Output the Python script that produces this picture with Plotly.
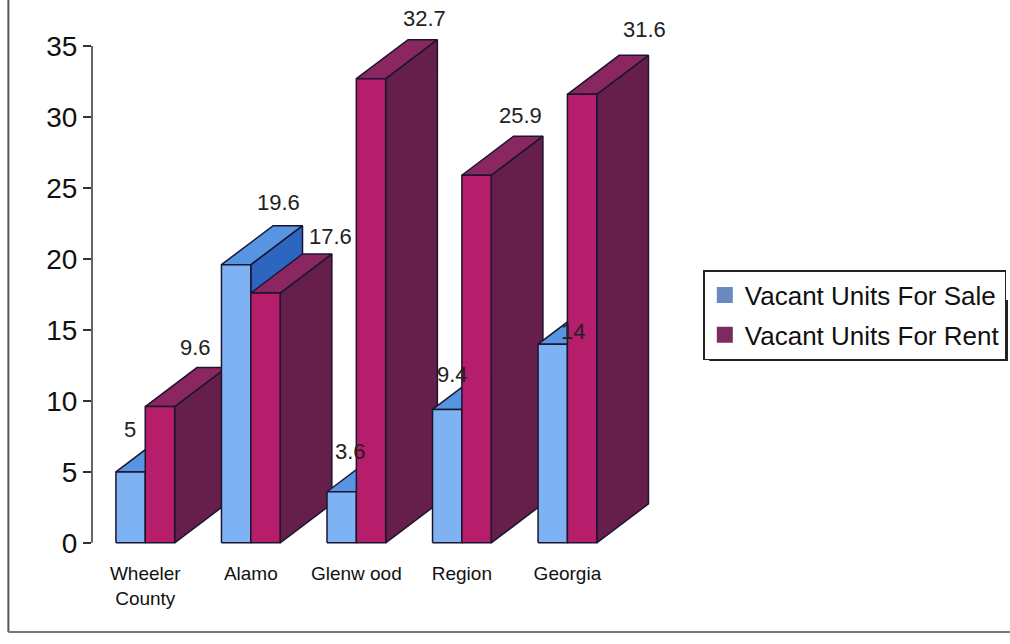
import plotly.graph_objects as go

# ---- data -------------------------------------------------------------
categories = ["Wheeler<br>County", "Alamo", "Glenw ood", "Region", "Georgia"]
for_sale = [5, 19.6, 3.6, 9.4, 14]
for_rent = [9.6, 17.6, 32.7, 25.9, 31.6]
y_ticks = [0, 5, 10, 15, 20, 25, 30, 35]

# value-label offsets in pixels from each bar's top-front-left corner
sale_label_shift = [(14, 42), (57, 62), (23, 40), (20, 35), (35, 13)]
rent_label_shift = [(50, 59), (80, 57), (68, 60), (59, 60), (77, 65)]

# ---- page layout (pixels) ----------------------------------------------
W, H = 1010, 644
M_L, M_R, M_T, M_B = 92, 4, 12, 99
PX_PER_CAT = 106.0          # horizontal distance between categories
X_START = -0.5047           # category units at the value axis


def paper_x(px):
    return (px - M_L) / (W - M_L - M_R)


def paper_y(py):
    return (H - M_B - py) / (H - M_T - M_B)


# ---- 3-D bar geometry (axis units) -------------------------------------
BAR_W = 0.278      # width of one bar, in category units
DEPTH_X = 0.49     # oblique depth, horizontal part
DEPTH_Y = 2.75     # oblique depth, vertical part

SALE = dict(front="#7fb2f3", top="#5795e3", side="#2d66c0", legend="#6a89bd")
RENT = dict(front="#b61d6b", top="#8a2660", side="#661f4b", legend="#7b2b5d")
EDGE = "#1b1530"
FONT = "Liberation Sans, Arial, sans-serif"

fig = go.Figure()


def add_poly(xs, ys, color):
    fig.add_trace(go.Scatter(
        x=xs + [xs[0]], y=ys + [ys[0]], mode="lines", fill="toself",
        fillcolor=color, line=dict(color=EDGE, width=1.5),
        hoverinfo="skip", showlegend=False))


def add_bar(x0, value, style):
    x1 = x0 + BAR_W
    add_poly([x1, x1 + DEPTH_X, x1 + DEPTH_X, x1],
             [0, DEPTH_Y, value + DEPTH_Y, value], style["side"])
    add_poly([x0, x1, x1 + DEPTH_X, x0 + DEPTH_X],
             [value, value, value + DEPTH_Y, value + DEPTH_Y], style["top"])
    add_poly([x0, x1, x1, x0], [0, 0, value, value], style["front"])


# paint left to right so nearer faces cover the ones behind
for i in range(len(categories)):
    add_bar(i - BAR_W, for_sale[i], SALE)
    add_bar(i, for_rent[i], RENT)

# legend entries
for name, style in (("Vacant Units For Sale", SALE), ("Vacant Units For Rent", RENT)):
    fig.add_trace(go.Scatter(
        x=[None], y=[None], mode="markers", name=name, legendgroup=name,
        marker=dict(symbol="square", size=16, color=style["legend"], line=dict(width=0))))

# value labels
annotations = []
for i in range(len(categories)):
    for x0, v, (sx, sy) in ((i - BAR_W, for_sale[i], sale_label_shift[i]),
                            (i, for_rent[i], rent_label_shift[i])):
        annotations.append(dict(
            x=x0, y=v, xref="x", yref="y", text=f"{v:g}", showarrow=False,
            xanchor="center", yanchor="middle", xshift=sx, yshift=sy,
            font=dict(family=FONT, size=22, color="#222222")))

shapes = [
    # value axis line
    dict(type="line", xref="paper", yref="y", x0=0, x1=0, y0=0, y1=35,
         line=dict(color="#333333", width=1.5)),
    # legend drop shadow
    dict(type="rect", xref="paper", yref="paper",
         x0=paper_x(712), x1=paper_x(1012), y0=paper_y(361), y1=paper_y(300),
         fillcolor="#1e1e1e", line=dict(width=0), layer="below"),
    # chart frame
    dict(type="line", xref="paper", yref="paper", x0=paper_x(8), x1=paper_x(8),
         y0=paper_y(632), y1=paper_y(-5), line=dict(color="#555555", width=2)),
    dict(type="line", xref="paper", yref="paper", x0=paper_x(8), x1=paper_x(1015),
         y0=paper_y(632), y1=paper_y(632), line=dict(color="#777777", width=2)),
]

fig.update_layout(
    width=W, height=H,
    margin=dict(l=M_L, r=M_R, t=M_T, b=M_B),
    paper_bgcolor="white", plot_bgcolor="white",
    font=dict(family=FONT, color="#111111"),
    showlegend=True,
    legend=dict(
        x=paper_x(706), y=paper_y(270), xanchor="left", yanchor="top",
        bgcolor="white", bordercolor="#222222", borderwidth=1.5,
        font=dict(family=FONT, size=26, color="#111111"),
        traceorder="grouped", tracegroupgap=3),
    xaxis=dict(
        range=[X_START, X_START + (W - M_L - M_R) / PX_PER_CAT], tickmode="array",
        tickvals=list(range(len(categories))), ticktext=categories,
        showgrid=False, zeroline=False, showline=False, ticks="",
        tickfont=dict(family=FONT, size=19, color="#111111"),
        ticklabelstandoff=15, fixedrange=True),
    yaxis=dict(
        range=[-0.15, 37.4], tickmode="array", tickvals=y_ticks,
        showgrid=False, zeroline=False, showline=False,
        ticks="outside", ticklen=8, tickwidth=1.5, tickcolor="#333333",
        tickfont=dict(family=FONT, size=28, color="#111111"),
        ticklabelstandoff=0, fixedrange=True),
    annotations=annotations,
    shapes=shapes,
)

fig.write_html("out.html")
